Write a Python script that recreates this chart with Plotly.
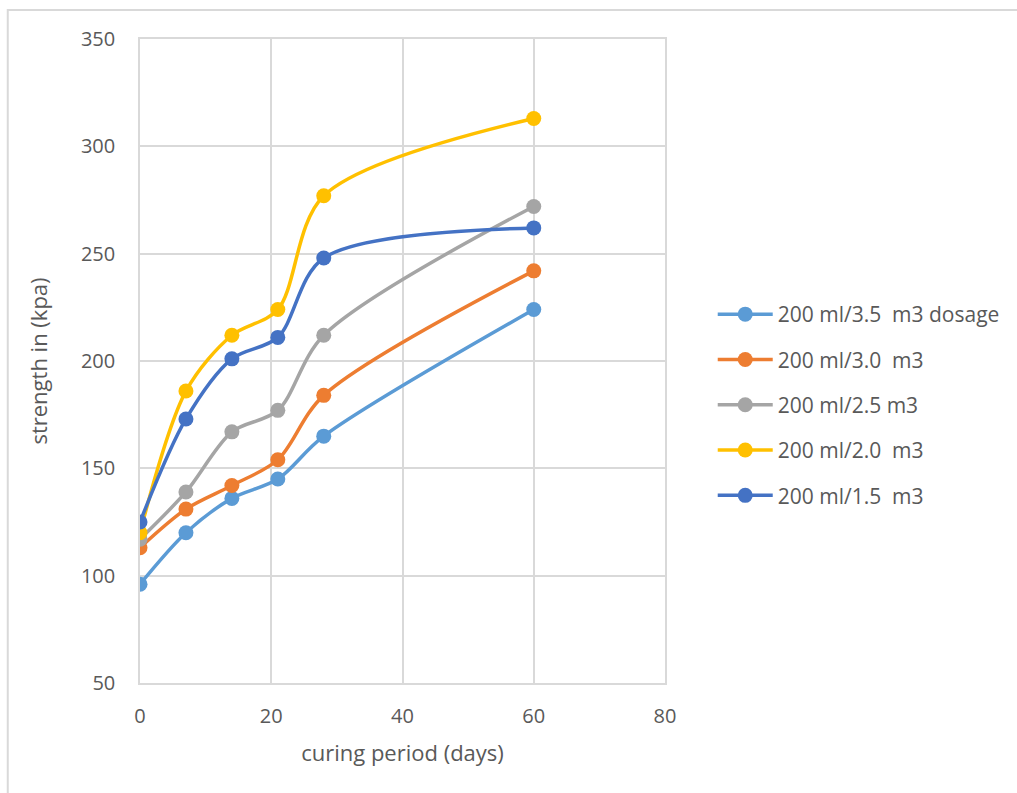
import plotly.graph_objects as go

days = [0, 7, 14, 21, 28, 60]
s35 = [96, 120, 136, 145, 165, 224]
s30 = [113, 131, 142, 154, 184, 242]
s25 = [117, 139, 167, 177, 212, 272]
s20 = [120, 186, 212, 224, 277, 313]
s15 = [125, 173, 201, 211, 248, 262]

names = ["200 ml/3.5  m3 dosage", "200 ml/3.0  m3", "200 ml/2.5 m3",
         "200 ml/2.0  m3", "200 ml/1.5  m3"]
series = [s35, s30, s25, s20, s15]
colors = ["#5B9BD5", "#ED7D31", "#A5A5A5", "#FFC000", "#4472C4"]

W, H = 1017, 793
L, R, T, B = 140, 349, 39, 110
pw, ph = W - L - R, H - T - B

fig = go.Figure()
for n, s, c in zip(names, series, colors):
    fig.add_trace(go.Scatter(
        x=days, y=s, name=n, mode="lines+markers", legendgroup=n,
        line=dict(color=c, width=3.5, shape="spline", smoothing=0.9),
        marker=dict(color=c, size=15),
    ))

font_family = "Open Sans, Noto Sans, sans-serif"
fig.update_layout(
    width=W, height=H,
    margin=dict(l=L, r=R, t=T, b=B),
    paper_bgcolor="white", plot_bgcolor="white",
    font=dict(family=font_family, color="#595959", size=20),
    showlegend=True,
    legend=dict(
        x=(716 - L) / pw, y=(H - B - 405) / ph, xanchor="left", yanchor="middle",
        xref="paper", yref="paper",
        font=dict(size=21, color="#595959"),
        tracegroupgap=15, itemwidth=55,
        bgcolor="rgba(0,0,0,0)",
    ),
    xaxis=dict(
        range=[0, 80], tickvals=[0, 20, 40, 60, 80], ticks="",
        tickfont=dict(size=20),
        showgrid=True, gridcolor="#D9D9D9", gridwidth=1.5,
        showline=True, linecolor="#D9D9D9", linewidth=1.5, mirror=True,
        zeroline=False, ticklabelstandoff=14,
        title=dict(text="curing period (days)", font=dict(size=22, color="#595959"), standoff=18),
    ),
    yaxis=dict(
        range=[50, 350], tickvals=[50, 100, 150, 200, 250, 300, 350], ticks="",
        tickfont=dict(size=20),
        showgrid=True, gridcolor="#D9D9D9", gridwidth=1.5,
        showline=True, linecolor="#D9D9D9", linewidth=1.5, mirror=True,
        zeroline=False, ticklabelstandoff=19,
        title=dict(text="strength in (kpa)", font=dict(size=22, color="#595959"), standoff=27),
    ),
    shapes=[dict(
        type="rect", xref="paper", yref="paper",
        x0=(7 - L) / pw, x1=(W + 10 - L) / pw,
        y0=(H - B - (H + 10)) / ph, y1=(H - B - 10) / ph,
        line=dict(color="#D9D9D9", width=2), fillcolor="rgba(0,0,0,0)", layer="below",
    )],
)

fig.write_html("out.html")
